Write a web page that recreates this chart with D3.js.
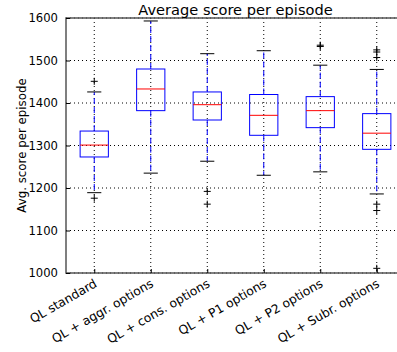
<!DOCTYPE html>
<html>
<head>
<meta charset="utf-8">
<script src="https://cdn.jsdelivr.net/npm/d3@7"></script>
<style>
  html, body { margin: 0; padding: 0; background: #fff; }
  svg { display: block; font-family: "DejaVu Sans", sans-serif; }
</style>
</head>
<body>
<svg id="chart" width="397" height="352"></svg>
<script>
// Categories and per-method box statistics (average score per episode)
const categories = ["QL standard", "QL + aggr. options", "QL + cons. options",
                    "QL + P1 options", "QL + P2 options", "QL + Subr. options"];
const q1        = [1273, 1382, 1360, 1324, 1342, 1291];
const medians   = [1301, 1433, 1396, 1371, 1382, 1329];
const q3        = [1334, 1480, 1426, 1420, 1415, 1375];
const whiskLow  = [1189, 1235, 1263, 1230, 1238, 1186];
const whiskHigh = [1426, 1593, 1516, 1523, 1489, 1479];
const outliers  = [
  [1451, 1176],
  [],
  [1192, 1162],
  [],
  [1536, 1533],
  [1525, 1520, 1507, 1162, 1147, 1011]
];
const yTicks = [1000, 1100, 1200, 1300, 1400, 1500, 1600];

const svg = d3.select("#chart");
const margin = { left: 66, top: 18, right: 405, bottom: 273 };

const x = d3.scaleLinear().domain([0.5, categories.length + 0.5]).range([margin.left, margin.right]);
const y = d3.scaleLinear().domain([1000, 1600]).range([margin.bottom, margin.top]);
const boxW = (x(1) - x(0)) * 0.5;
const capW = boxW * 0.5;

const data = categories.map((c, i) => ({
  name: c, pos: i + 1, q1: q1[i], med: medians[i], q3: q3[i],
  lo: whiskLow[i], hi: whiskHigh[i], out: outliers[i]
}));

// grid (dotted)
const grid = svg.append("g");
grid.selectAll("line.gy").data(yTicks).join("line")
  .attr("x1", margin.left).attr("x2", margin.right)
  .attr("y1", d => y(d)).attr("y2", d => y(d))
  .attr("stroke", "#000").attr("stroke-width", 1).attr("stroke-dasharray", "1,3");
grid.selectAll("line.gx").data(data).join("line")
  .attr("x1", d => x(d.pos)).attr("x2", d => x(d.pos))
  .attr("y1", margin.top).attr("y2", margin.bottom)
  .attr("stroke", "#000").attr("stroke-width", 1).attr("stroke-dasharray", "1,3");

// boxes
const g = svg.append("g").selectAll("g").data(data).join("g");
// whiskers (blue dashed)
g.append("line").attr("x1", d => x(d.pos)).attr("x2", d => x(d.pos))
  .attr("y1", d => y(d.q3)).attr("y2", d => y(d.hi))
  .attr("stroke", "#0000ff").attr("stroke-width", 1).attr("stroke-dasharray", "6,3");
g.append("line").attr("x1", d => x(d.pos)).attr("x2", d => x(d.pos))
  .attr("y1", d => y(d.q1)).attr("y2", d => y(d.lo))
  .attr("stroke", "#0000ff").attr("stroke-width", 1).attr("stroke-dasharray", "6,3");
// caps
["hi", "lo"].forEach(k => {
  g.append("line").attr("x1", d => x(d.pos) - capW / 2).attr("x2", d => x(d.pos) + capW / 2)
    .attr("y1", d => y(d[k])).attr("y2", d => y(d[k]))
    .attr("stroke", "#000").attr("stroke-width", 1);
});
// box
g.append("rect").attr("x", d => x(d.pos) - boxW / 2).attr("width", boxW)
  .attr("y", d => y(d.q3)).attr("height", d => y(d.q1) - y(d.q3))
  .attr("fill", "none").attr("stroke", "#0000ff").attr("stroke-width", 1);
// median
g.append("line").attr("x1", d => x(d.pos) - boxW / 2).attr("x2", d => x(d.pos) + boxW / 2)
  .attr("y1", d => y(d.med)).attr("y2", d => y(d.med))
  .attr("stroke", "#ff0000").attr("stroke-width", 1);
// fliers
g.each(function(d) {
  d3.select(this).selectAll("path.fl").data(d.out).join("path")
    .attr("d", v => `M${x(d.pos) - 3.5},${y(v)}h7M${x(d.pos)},${y(v) - 3.5}v7`)
    .attr("stroke", "#000").attr("stroke-width", 1).attr("fill", "none");
});

// axes frame
svg.append("rect").attr("x", margin.left).attr("y", margin.top)
  .attr("width", margin.right - margin.left).attr("height", margin.bottom - margin.top)
  .attr("fill", "none").attr("stroke", "#555").attr("stroke-width", 1.5);

// y axis (ticks inside)
const yAxis = d3.axisLeft(y).tickValues(yTicks).tickFormat(d3.format("d"))
  .tickSizeInner(-4).tickSizeOuter(0).tickPadding(8);
const ya = svg.append("g").attr("transform", `translate(${margin.left},0)`).call(yAxis);
ya.select(".domain").remove();
ya.selectAll("text").attr("font-size", 11.6).attr("fill", "#000").attr("font-family", "DejaVu Sans");

// x axis (ticks inside, labels rotated 30 degrees, right-aligned at the tick)
const xAxis = d3.axisBottom(x).tickValues(data.map(d => d.pos)).tickFormat(() => "")
  .tickSizeInner(-4).tickSizeOuter(0);
const xa = svg.append("g").attr("transform", `translate(0,${margin.bottom})`).call(xAxis);
xa.select(".domain").remove();
svg.append("g").selectAll("text").data(data).join("text")
  .attr("transform", d => `translate(${x(d.pos) - 1},${margin.bottom + 5}) rotate(-30)`)
  .attr("text-anchor", "end").attr("dy", "0.75em")
  .attr("font-size", 12.3).attr("fill", "#000").text(d => d.name);

// title and y label
svg.append("text").attr("x", (margin.left + margin.right) / 2).attr("y", 15)
  .attr("text-anchor", "middle").attr("font-size", 14.6).text("Average score per episode");
svg.append("text").attr("transform", `translate(25.5,${(margin.top + margin.bottom) / 2}) rotate(-90)`)
  .attr("text-anchor", "middle").attr("font-size", 11.8).text("Avg. score per episode");
</script>
</body>
</html>
